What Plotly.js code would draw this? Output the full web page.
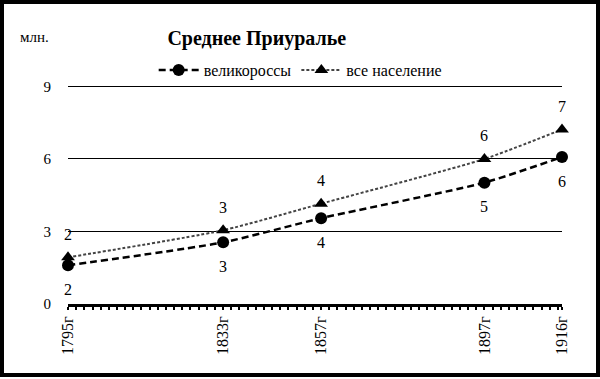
<!DOCTYPE html>
<html><head><meta charset="utf-8">
<script src="https://cdn.plot.ly/plotly-3.0.1.min.js"></script>
<style>html,body{margin:0;padding:0;background:#fff}#chart{width:600px;height:379px}</style>
</head><body><div id="chart"></div>
<script>
const years = [1795, 1833, 1857, 1897, 1916];
const yearLabels = ['1795г', '1833г', '1857г', '1897г', '1916г'];
const velikorossy = [1.6, 2.55, 3.55, 5.02, 6.08];
const vseNaselenie = [1.93, 3.05, 4.15, 6.0, 7.22];
const velikorossyLabels = ['2', '3', '4', '5', '6'];
const vseLabels = ['2', '3', '4', '6', '7'];

const serif = 'Liberation Serif';

const traces = [
  {x: years, y: velikorossy, name: 'великороссы', mode: 'lines+markers', cliponaxis: false,
   line: {color: '#000', width: 2.5, dash: '7px,4px', shape: 'spline', smoothing: 0.6},
   marker: {symbol: 'circle', size: 12, color: '#000'}},
  {x: years, y: vseNaselenie, name: 'все население', mode: 'lines+markers', cliponaxis: false,
   line: {color: '#444', width: 2, dash: '3px,2px', shape: 'spline', smoothing: 0.6},
   marker: {symbol: 'triangle-up', size: 12, color: '#000'}}
];

const annotations = [];
years.forEach((yr, i) => {
  annotations.push({x: yr, y: velikorossy[i], text: velikorossyLabels[i], showarrow: false,
    yshift: -24, font: {family: serif, size: 16, color: '#000'}});
  annotations.push({x: yr, y: vseNaselenie[i], text: vseLabels[i], showarrow: false,
    yshift: 23, font: {family: serif, size: 16, color: '#000'}});
});
annotations.push({xref: 'paper', yref: 'paper', x: -50 / 494, xanchor: 'left', y: 267 / 220, yanchor: 'middle',
  text: 'млн.', showarrow: false, font: {family: serif, size: 15, color: '#000'}});

const layout = {
  width: 600, height: 379,
  margin: {l: 68, r: 38, t: 84, b: 75},
  paper_bgcolor: '#fff', plot_bgcolor: '#fff',
  font: {family: serif, color: '#000'},
  title: {text: '<b>Среднее Приуралье</b>', x: 0.428, xanchor: 'center', y: 0.9, yanchor: 'middle',
    font: {family: serif, size: 20, color: '#000'}},
  showlegend: true,
  legend: {orientation: 'h', x: 0.47, xanchor: 'center', y: 234 / 220, yanchor: 'middle',
    font: {family: serif, size: 16, color: '#000'}, bgcolor: 'rgba(0,0,0,0)', itemwidth: 40},
  xaxis: {range: [1795, 1916], tickvals: years, ticktext: yearLabels, tickangle: -90,
    showgrid: false, zeroline: false, showline: true, linecolor: '#000', linewidth: 3,
    ticks: 'outside', ticklen: 3, tickwidth: 2, tickcolor: '#000',
    minor: {dtick: 2, tick0: 1795, ticks: 'outside', ticklen: 3, tickwidth: 2, tickcolor: '#000'},
    tickfont: {family: serif, size: 16, color: '#000'}, fixedrange: true},
  yaxis: {range: [0, 9.1], tickvals: [0, 3, 6, 9], showgrid: true, gridcolor: '#000', gridwidth: 1,
    zeroline: false, showline: false, ticks: '', ticklabelstandoff: 16,
    tickfont: {family: serif, size: 15, color: '#000'}, fixedrange: true},
  annotations: annotations,
  shapes: [{type: 'rect', xref: 'paper', yref: 'paper',
    x0: -66 / 494, x1: 530 / 494, y0: -71 / 220, y1: 302 / 220,
    line: {color: '#000', width: 4}, fillcolor: 'rgba(0,0,0,0)'}]
};

Plotly.newPlot('chart', traces, layout, {displayModeBar: false, staticPlot: true});
</script></body></html>
